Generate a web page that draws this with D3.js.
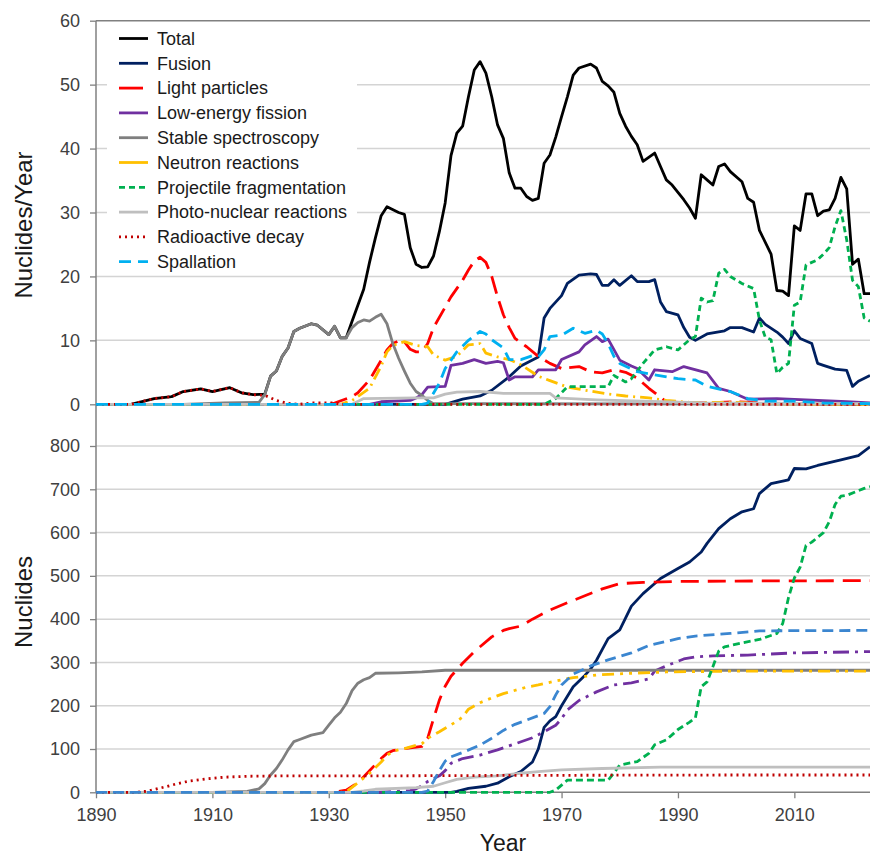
<!DOCTYPE html>
<html>
<head>
<meta charset="utf-8">
<script src="https://cdn.jsdelivr.net/npm/d3@7"></script>
<style>
  body { margin: 0; background: #fff; }
  svg { display: block; font-family: "Liberation Sans", Arial, sans-serif; }
</style>
</head>
<body>
<svg id="chart" width="870" height="858"></svg>
<script>
// ---- data: [year, value] ----
const totalRate = [[1890,0],[1896,0],[1900,0.9],[1903,1.2],[1905,2.0],[1908,2.4],[1910,2.0],[1913,2.6],[1915,1.8],[1917,1.5],[1919,1.6],[1920,4.4],[1921,5.2],[1922,7.5],[1923,8.8],[1924,11.4],[1925,11.9],[1927,12.6],[1928,12.4],[1930,10.9],[1931,12.2],[1932,10.4],[1933,10.4],[1934,13],[1935,15.5],[1936,18],[1937,22.2],[1938,26],[1939,29.5],[1940,30.9],[1942,30.0],[1943,29.7],[1944,24.5],[1945,21.9],[1946,21.4],[1947,21.5],[1948,23.2],[1949,27],[1950,31.5],[1951,38.9],[1952,42.4],[1953,43.5],[1954,48.1],[1955,52.3],[1956,53.6],[1957,51.8],[1958,48.1],[1959,43.7],[1960,41.6],[1961,36.2],[1962,33.8],[1963,33.8],[1964,32.5],[1965,31.9],[1966,32.2],[1967,37.7],[1968,39],[1969,41.8],[1970,45],[1971,48.1],[1972,51.5],[1973,52.6],[1975,53.2],[1976,52.6],[1977,50.5],[1978,49.8],[1979,48.8],[1980,45.5],[1981,43.5],[1982,41.9],[1983,40.6],[1984,38],[1986,39.3],[1987,37.2],[1988,35.1],[1989,34.3],[1991,32],[1992,30.7],[1993,29.1],[1994,35.9],[1995,35.1],[1996,34.3],[1997,37.2],[1998,37.6],[1999,36.4],[2001,34.8],[2002,32.2],[2003,31.6],[2004,27.2],[2006,23.5],[2007,17.8],[2008,17.7],[2009,17],[2010,27.9],[2011,27.2],[2012,32.9],[2013,32.9],[2014,29.5],[2015,30.2],[2016,30.4],[2017,32.2],[2018,35.5],[2019,33.7],[2020,21.9],[2021,22.7],[2022,17.3],[2023,17.3]]
const fusionRate = [[1890,0],[1950,0],[1953,0.8],[1956,1.3],[1958,2.2],[1961,4.3],[1963,6.0],[1966,7.4],[1967,13.5],[1968,15],[1970,17],[1971,18.9],[1973,20.2],[1975,20.4],[1976,20.3],[1977,18.6],[1978,18.6],[1979,19.5],[1980,18.6],[1982,20.1],[1983,19.2],[1985,19.2],[1986,19.5],[1987,16],[1988,14.5],[1990,14],[1991,12],[1992,10.5],[1993,10],[1995,11],[1998,11.5],[1999,12],[2001,12],[2003,11.3],[2004,13.5],[2005,12.5],[2007,11.3],[2008,10.5],[2009,9.5],[2010,11.5],[2011,10.3],[2013,9.5],[2014,6.4],[2015,6.1],[2017,5.5],[2019,5.3],[2020,2.8],[2021,3.6],[2023,4.5]]
const lightRate = [[1890,0],[1930,0],[1931,0.2],[1934,1.2],[1935,1.8],[1937,3.8],[1939,6.9],[1940,8.5],[1941,9.5],[1942,9.9],[1943,9.8],[1944,8.6],[1945,8.2],[1946,8.2],[1947,9.5],[1948,12],[1950,15.2],[1951,16.8],[1953,19.4],[1954,21],[1955,22.4],[1956,23],[1957,22.2],[1958,20],[1959,16.8],[1960,14],[1961,12],[1962,10.3],[1964,9],[1966,7.5],[1968,6.4],[1970,5.6],[1973,5.9],[1975,5.1],[1977,4.9],[1979,5.4],[1981,5.0],[1983,4.1],[1985,2.5],[1987,1.1],[1988,0.4],[1990,0.3],[1995,0.2],[2000,0.4],[2005,0.2],[2010,0.1],[2023,0]]
const fissionRate = [[1890,0],[1937,0],[1939,0.4],[1944,0.6],[1945,1.0],[1946,1.5],[1947,2.7],[1950,2.8],[1951,6.1],[1953,6.4],[1955,7.0],[1957,6.4],[1959,6.7],[1960,6.5],[1961,3.8],[1962,4.3],[1965,4.3],[1966,5.4],[1969,5.4],[1970,7.0],[1973,8.2],[1974,9.3],[1976,10.6],[1977,9.8],[1978,10.2],[1980,6.9],[1982,6.0],[1983,5.6],[1985,3.8],[1986,5.4],[1989,5.1],[1991,5.9],[1995,4.9],[1997,2.5],[1999,2.0],[2002,0.8],[2007,0.9],[2012,0.7],[2019,0.4],[2023,0.2]]
const stableRate = [[1890,0],[1905,0],[1912,0.2],[1918,0.3],[1919,1.5],[1920,4.4],[1921,5.2],[1922,7.5],[1923,8.8],[1924,11.4],[1925,11.9],[1927,12.6],[1928,12.4],[1930,10.9],[1931,12.2],[1932,10.4],[1933,10.4],[1934,12],[1935,12.8],[1936,13.2],[1937,13.0],[1938,13.6],[1939,14.1],[1940,12.6],[1941,9.5],[1942,7.2],[1943,5.2],[1944,3.3],[1945,2.0],[1946,1.4],[1947,0.6],[1948,0.1],[2023,0]]
const neutronRate = [[1890,0],[1932,0],[1934,0.6],[1937,2.5],[1939,6],[1940,8.2],[1941,9.2],[1943,9.8],[1945,9.2],[1947,9.0],[1948,7.7],[1950,6.9],[1952,7.5],[1954,9.3],[1956,9.5],[1957,8.0],[1959,7.4],[1961,7.0],[1963,6.2],[1966,4.4],[1968,3.7],[1971,2.7],[1974,2.2],[1978,1.6],[1981,1.3],[1985,1.0],[1988,0.6],[1992,0.3],[2000,0.3],[2005,0.1],[2023,0]]
const fragRate = [[1890,0],[1967,0],[1969,0.9],[1971,2.75],[1978,2.75],[1979,4.5],[1980,4.0],[1981,3.5],[1982,4.0],[1984,6.4],[1986,8.5],[1988,9.0],[1990,8.5],[1992,10.1],[1993,10.6],[1994,16.6],[1995,16.0],[1996,16.2],[1997,20.5],[1998,21.1],[1999,20],[2001,18.9],[2003,18.1],[2004,13.2],[2005,10.5],[2006,10.1],[2007,4.8],[2008,5.8],[2009,6.4],[2010,15.5],[2011,16],[2012,21.8],[2014,22.6],[2015,23.5],[2016,24.5],[2017,27.8],[2018,30.3],[2019,25.7],[2020,19.4],[2021,18.4],[2022,13.5],[2023,13]]
const photoRate = [[1890,0],[1934,0],[1936,0.9],[1945,1.0],[1948,1.0],[1950,1.6],[1952,1.9],[1956,2.0],[1960,1.7],[1968,1.7],[1969,1.0],[1976,0.7],[1987,0.4],[1995,0.2],[2023,0.1]]
const decayRate = [[1890,0],[1896,0],[1900,0.9],[1903,1.2],[1905,2.0],[1908,2.4],[1910,2.0],[1913,2.6],[1915,1.8],[1917,1.5],[1919,1.4],[1920,1.0],[1921,0.6],[1923,0.15],[1925,0],[1927,0.2],[1931,0.2],[1932,0],[2023,0]]
const spallRate = [[1890,0],[1946,0],[1947,0.2],[1949,3.3],[1950,5.6],[1952,8.2],[1954,10],[1956,11.4],[1957,11.0],[1958,10.1],[1960,8.8],[1961,7.0],[1963,7.0],[1965,7.6],[1966,7.4],[1967,8.5],[1968,10.6],[1970,10.8],[1972,11.9],[1974,11.1],[1976,11.6],[1977,11.0],[1978,9.5],[1979,7.5],[1980,6.4],[1983,5.1],[1986,4.6],[1990,4.0],[1993,3.8],[1995,2.8],[1999,2.0],[2002,0.9],[2005,0.5],[2010,0.5],[2015,0.2],[2023,0.1]]

const fusionCum = [[1890,0],[1951,0],[1952,2],[1954,9],[1957,14],[1959,21],[1961,36],[1963,48],[1965,70],[1966,100],[1967,150],[1968,165],[1969,175],[1970,200],[1972,244],[1974,270],[1975,285],[1976,305],[1977,330],[1978,355],[1980,375],[1982,430],[1984,459],[1987,494],[1990,517],[1992,532],[1994,555],[1995,575],[1997,609],[1999,632],[2001,648],[2003,655],[2004,690],[2006,713],[2009,722],[2010,748],[2012,747],[2014,755],[2018,768],[2021,778],[2023,798]]
const lightCum = [[1890,0],[1931,0],[1933,5],[1935,22],[1937,50],[1939,78],[1940,90],[1941,96],[1943,101],[1946,106],[1947,125],[1948,170],[1949,213],[1950,245],[1951,268],[1953,298],[1955,325],[1958,359],[1960,374],[1961,378],[1963,384],[1965,400],[1968,421],[1971,438],[1974,454],[1977,470],[1980,482],[1984,485],[1990,487],[2000,488],[2023,489]]
const fissionCum = [[1890,0],[1938,0],[1940,1],[1944,4],[1945,8],[1946,15],[1947,25],[1949,38],[1950,50],[1951,67],[1953,78],[1956,86],[1959,98],[1962,112],[1965,126],[1967,140],[1969,155],[1970,170],[1971,190],[1973,212],[1976,232],[1979,248],[1982,253],[1985,262],[1986,280],[1988,292],[1991,308],[1993,313],[1996,315],[2002,317],[2010,322],[2023,325]]
const stableCum = [[1890,0],[1910,0],[1916,2],[1918,8],[1919,20],[1920,40],[1921,55],[1922,75],[1923,98],[1924,117],[1925,122],[1927,132],[1929,138],[1930,155],[1931,172],[1932,185],[1933,205],[1934,235],[1935,252],[1936,260],[1937,265],[1938,275],[1942,276],[1946,278],[1950,282],[2023,282]]
const neutronCum = [[1890,0],[1932,0],[1933,1],[1935,22],[1937,44],[1939,70],[1940,85],[1941,95],[1943,101],[1946,112],[1947,125],[1949,140],[1950,148],[1952,164],[1953,174],[1954,192],[1956,207],[1958,218],[1960,228],[1964,243],[1966,248],[1969,257],[1972,265],[1976,271],[1982,275],[1988,278],[2000,280],[2023,280]]
const fragCum = [[1890,0],[1968,0],[1969,5],[1971,28],[1978,28],[1979,45],[1980,63],[1983,71],[1985,90],[1986,110],[1988,121],[1990,145],[1992,162],[1993,172],[1994,244],[1995,255],[1996,290],[1997,326],[1998,336],[2001,345],[2004,353],[2007,367],[2008,390],[2009,450],[2010,495],[2011,520],[2012,570],[2013,578],[2015,600],[2016,625],[2017,665],[2018,684],[2019,686],[2022,702],[2023,706]]
const photoCum = [[1890,0],[1934,0],[1936,3],[1938,7],[1945,11],[1948,14],[1950,22],[1952,30],[1955,35],[1959,38],[1963,44],[1966,48],[1970,52],[1977,55],[1987,58],[2023,58]]
const decayCum = [[1890,0],[1897,0],[1899,3],[1902,13],[1904,20],[1906,26],[1909,31],[1912,35],[1916,37],[1922,38],[1940,38],[1960,39],[2000,40],[2023,40]]
const spallCum = [[1890,0],[1946,0],[1947,3],[1948,25],[1949,50],[1950,72],[1951,82],[1953,92],[1956,109],[1958,125],[1960,143],[1962,157],[1964,167],[1967,182],[1968,198],[1969,225],[1970,248],[1972,273],[1975,292],[1978,306],[1982,322],[1985,339],[1990,355],[1993,361],[1999,367],[2004,373],[2023,374]]

const yearTicks = [1890, 1910, 1930, 1950, 1970, 1990, 2010]
const rateTicks = [0, 10, 20, 30, 40, 50, 60]
const cumTicks = [0, 100, 200, 300, 400, 500, 600, 700, 800]

// ---- series styling ----
const topSeries = [
    { name: 'Total', data: totalRate, color: '#000000', dash: null },
    { name: 'Fusion', data: fusionRate, color: '#002060', dash: null },
    { name: 'Light particles', data: lightRate, color: '#ff0000', dash: '18,8', legendDash: '24,10' },
    { name: 'Low-energy fission', data: fissionRate, color: '#7030a0', dash: null },
    { name: 'Stable spectroscopy', data: stableRate, color: '#7f7f7f', dash: null },
    { name: 'Neutron reactions', data: neutronRate, color: '#ffc000', dash: '12,5,2,5', legendDash: null },
    { name: 'Projectile fragmentation', data: fragRate, color: '#00b050', dash: '6,4' },
    { name: 'Photo-nuclear reactions', data: photoRate, color: '#bfbfbf', dash: null },
    { name: 'Radioactive decay', data: decayRate, color: '#c00000', dash: '2,4' },
    { name: 'Spallation', data: spallRate, color: '#00b0f0', dash: '12,7' }
]
const bottomSeries = [
    { data: fusionCum, color: '#002060', dash: null },
    { data: lightCum, color: '#ff0000', dash: '18,9' },
    { data: fissionCum, color: '#7030a0', dash: '16,6,3,6' },
    { data: stableCum, color: '#7f7f7f', dash: null },
    { data: neutronCum, color: '#ffc000', dash: '12,6,3,6,3,6' },
    { data: fragCum, color: '#00b050', dash: '7,4' },
    { data: photoCum, color: '#bfbfbf', dash: null },
    { data: decayCum, color: '#c00000', dash: '2,4' },
    { data: spallCum, color: '#3b86d0', dash: '11,6' }
]

const svg = d3.select('#chart')
const left = 96, right = 870
const font = '"Liberation Sans", Arial, sans-serif'

const x = d3.scaleLinear().domain([1890, 2023]).range([left, right])
const yTop = d3.scaleLinear().domain([0, 60]).range([404.3, 20.7])
const yBot = d3.scaleLinear().domain([0, 800]).range([792.3, 446])

svg.append('defs').append('clipPath').attr('id', 'clip')
    .append('rect').attr('x', left).attr('y', 0).attr('width', right - left).attr('height', 858)

// gridlines
svg.append('g').selectAll('line')
    .data(rateTicks.filter(t => t < 60))
    .join('line')
    .attr('x1', left).attr('x2', right)
    .attr('y1', d => yTop(d)).attr('y2', d => yTop(d))
    .attr('stroke', '#d4d4d4').attr('stroke-width', 1.5)
svg.append('line')
    .attr('x1', left).attr('x2', right)
    .attr('y1', yTop(60)).attr('y2', yTop(60))
    .attr('stroke', '#808080').attr('stroke-width', 1.5)
svg.append('g').selectAll('line')
    .data(cumTicks.filter(t => t > 0))
    .join('line')
    .attr('x1', left).attr('x2', right)
    .attr('y1', d => yBot(d)).attr('y2', d => yBot(d))
    .attr('stroke', '#d4d4d4').attr('stroke-width', 1.5)

// legend background (covers gridlines)
const legendRows = topSeries.map((s, i) => ({ ...s, y: 38.5 + i * 24.8 }))
svg.append('rect')
    .attr('x', 107).attr('y', 23).attr('width', 250).attr('height', 250)
    .attr('fill', '#fff')

// axes
const axisTop = svg.append('g')
    .attr('transform', `translate(${left},0)`)
    .call(d3.axisLeft(yTop).tickValues(rateTicks).tickSize(6).tickPadding(10))
const axisBot = svg.append('g')
    .attr('transform', `translate(${left},0)`)
    .call(d3.axisLeft(yBot).tickValues(cumTicks).tickSize(6).tickPadding(10))
const axisX = svg.append('g')
    .attr('transform', `translate(0,${yBot(0)})`)
    .call(d3.axisBottom(x).tickValues(yearTicks).tickFormat(d3.format('d')).tickSize(6).tickPadding(10))

;[axisTop, axisBot, axisX].forEach(a => {
    a.select('.domain').remove()
    a.selectAll('.tick line').attr('stroke', '#808080').attr('stroke-width', 1.3)
    a.selectAll('.tick text')
        .attr('fill', '#404040')
        .style('font-size', '18px')
        .style('font-family', font)
})
svg.append('line')
    .attr('x1', left).attr('x2', left).attr('y1', yTop(60)).attr('y2', yBot(0))
    .attr('stroke', '#808080').attr('stroke-width', 1.5)
svg.append('line')
    .attr('x1', left).attr('x2', right).attr('y1', yBot(0)).attr('y2', yBot(0))
    .attr('stroke', '#808080').attr('stroke-width', 1.5)

// lines
const lineTop = d3.line().x(d => x(d[0])).y(d => yTop(d[1]))
const lineBot = d3.line().x(d => x(d[0])).y(d => yBot(d[1]))

const plot = svg.append('g').attr('clip-path', 'url(#clip)')
plot.selectAll('path.cum')
    .data(bottomSeries)
    .join('path')
    .attr('class', 'cum')
    .attr('d', d => lineBot(d.data))
    .attr('fill', 'none')
    .attr('stroke', d => d.color)
    .attr('stroke-width', 2.8)
    .attr('stroke-linejoin', 'round')
    .attr('stroke-dasharray', d => d.dash)
plot.selectAll('path.rate')
    .data(topSeries)
    .join('path')
    .attr('class', 'rate')
    .attr('d', d => lineTop(d.data))
    .attr('fill', 'none')
    .attr('stroke', d => d.color)
    .attr('stroke-width', 2.8)
    .attr('stroke-linejoin', 'round')
    .attr('stroke-dasharray', d => d.dash)

// legend
const legend = svg.append('g')
const items = legend.selectAll('g')
    .data(legendRows)
    .join('g')
    .attr('transform', d => `translate(0,${d.y})`)
items.append('line')
    .attr('x1', 119).attr('x2', 148)
    .attr('stroke', d => d.color)
    .attr('stroke-width', 2.8)
    .attr('stroke-dasharray', d => d.legendDash !== undefined ? d.legendDash : d.dash)
items.append('text')
    .attr('x', 157).attr('dy', '0.35em')
    .style('font-size', '18px')
    .attr('fill', '#1a1a1a')
    .text(d => d.name)

// axis titles
svg.append('text')
    .attr('transform', 'translate(32,225) rotate(-90)')
    .attr('text-anchor', 'middle')
    .style('font-size', '24px')
    .attr('fill', '#1a1a1a')
    .text('Nuclides/Year')
svg.append('text')
    .attr('transform', 'translate(32,602) rotate(-90)')
    .attr('text-anchor', 'middle')
    .style('font-size', '24px')
    .attr('fill', '#1a1a1a')
    .text('Nuclides')
svg.append('text')
    .attr('x', 503).attr('y', 851)
    .attr('text-anchor', 'middle')
    .style('font-size', '23px')
    .attr('fill', '#1a1a1a')
    .text('Year')
</script>
</body>
</html>
